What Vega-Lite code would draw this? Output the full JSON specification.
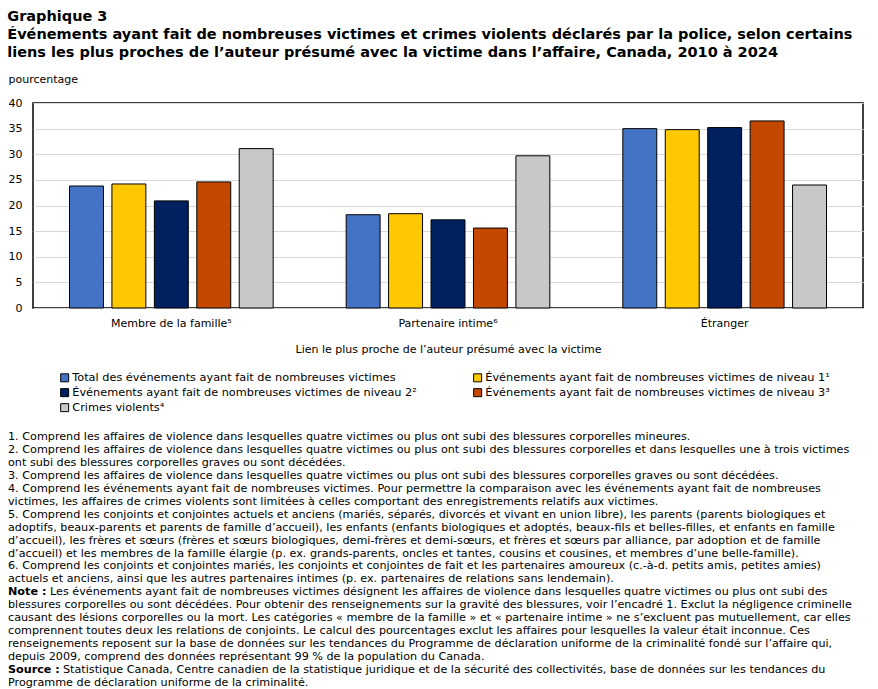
{
  "$schema": "https://vega.github.io/schema/vega-lite/v6.json",
  "padding": {"left": 7, "top": 8, "right": 5, "bottom": 2},
  "background": "white",
  "config": {
    "font": "DejaVu Sans",
    "view": {"stroke": "black", "strokeWidth": 1.5},
    "concat": {"spacing": 16}
  },
  "resolve": {"legend": {"color": "independent"}, "scale": {"color": "independent"}},
  "title": {
    "text": ["Graphique 3", "Événements ayant fait de nombreuses victimes et crimes violents déclarés par la police, selon certains", "liens les plus proches de l’auteur présumé avec la victime dans l’affaire, Canada, 2010 à 2024"],
    "font": "DejaVu Sans",
    "fontSize": 14.5,
    "fontWeight": "bold",
    "color": "black",
    "anchor": "start",
    "lineHeight": 18,
    "offset": 12
  },
  "datasets": {
    "bars": [
      {"relation": "Membre de la famille⁵", "serie": "Total des événements ayant fait de nombreuses victimes", "value": 23.8},
      {"relation": "Membre de la famille⁵", "serie": "Événements ayant fait de nombreuses victimes de niveau 1¹", "value": 24.2},
      {"relation": "Membre de la famille⁵", "serie": "Événements ayant fait de nombreuses victimes de niveau 2²", "value": 20.9},
      {"relation": "Membre de la famille⁵", "serie": "Événements ayant fait de nombreuses victimes de niveau 3³", "value": 24.6},
      {"relation": "Membre de la famille⁵", "serie": "Crimes violents⁴", "value": 31.1},
      {"relation": "Partenaire intime⁶", "serie": "Total des événements ayant fait de nombreuses victimes", "value": 18.2},
      {"relation": "Partenaire intime⁶", "serie": "Événements ayant fait de nombreuses victimes de niveau 1¹", "value": 18.4},
      {"relation": "Partenaire intime⁶", "serie": "Événements ayant fait de nombreuses victimes de niveau 2²", "value": 17.2},
      {"relation": "Partenaire intime⁶", "serie": "Événements ayant fait de nombreuses victimes de niveau 3³", "value": 15.6},
      {"relation": "Partenaire intime⁶", "serie": "Crimes violents⁴", "value": 29.7},
      {"relation": "Étranger", "serie": "Total des événements ayant fait de nombreuses victimes", "value": 35.0},
      {"relation": "Étranger", "serie": "Événements ayant fait de nombreuses victimes de niveau 1¹", "value": 34.8},
      {"relation": "Étranger", "serie": "Événements ayant fait de nombreuses victimes de niveau 2²", "value": 35.2},
      {"relation": "Étranger", "serie": "Événements ayant fait de nombreuses victimes de niveau 3³", "value": 36.5},
      {"relation": "Étranger", "serie": "Crimes violents⁴", "value": 24.0}
    ],
    "notes": [
      {"line": 1, "kind": "plain", "prefix": "", "text": "1. Comprend les affaires de violence dans lesquelles quatre victimes ou plus ont subi des blessures corporelles mineures."},
      {"line": 2, "kind": "plain", "prefix": "", "text": "2. Comprend les affaires de violence dans lesquelles quatre victimes ou plus ont subi des blessures corporelles et dans lesquelles une à trois victimes"},
      {"line": 3, "kind": "plain", "prefix": "", "text": "ont subi des blessures corporelles graves ou sont décédées."},
      {"line": 4, "kind": "plain", "prefix": "", "text": "3. Comprend les affaires de violence dans lesquelles quatre victimes ou plus ont subi des blessures corporelles graves ou sont décédées."},
      {"line": 5, "kind": "plain", "prefix": "", "text": "4. Comprend les événements ayant fait de nombreuses victimes. Pour permettre la comparaison avec les événements ayant fait de nombreuses"},
      {"line": 6, "kind": "plain", "prefix": "", "text": "victimes, les affaires de crimes violents sont limitées à celles comportant des enregistrements relatifs aux victimes."},
      {"line": 7, "kind": "plain", "prefix": "", "text": "5. Comprend les conjoints et conjointes actuels et anciens (mariés, séparés, divorcés et vivant en union libre), les parents (parents biologiques et"},
      {"line": 8, "kind": "plain", "prefix": "", "text": "adoptifs, beaux-parents et parents de famille d’accueil), les enfants (enfants biologiques et adoptés, beaux-fils et belles-filles, et enfants en famille"},
      {"line": 9, "kind": "plain", "prefix": "", "text": "d’accueil), les frères et sœurs (frères et sœurs biologiques, demi-frères et demi-sœurs, et frères et sœurs par alliance, par adoption et de famille"},
      {"line": 10, "kind": "plain", "prefix": "", "text": "d’accueil) et les membres de la famille élargie (p.  ex. grands-parents, oncles et tantes, cousins et cousines, et membres d’une belle-famille)."},
      {"line": 11, "kind": "plain", "prefix": "", "text": "6. Comprend les conjoints et conjointes mariés, les conjoints et conjointes de fait et les partenaires amoureux (c.-à-d. petits amis, petites amies)"},
      {"line": 12, "kind": "plain", "prefix": "", "text": "actuels et anciens, ainsi que les autres partenaires intimes (p.  ex. partenaires de relations sans lendemain)."},
      {"line": 13, "kind": "note", "prefix": "Note :", "text": "Les événements ayant fait de nombreuses victimes désignent les affaires de violence dans lesquelles quatre victimes ou plus ont subi des"},
      {"line": 14, "kind": "plain", "prefix": "", "text": "blessures corporelles ou sont décédées. Pour obtenir des renseignements sur la gravité des blessures, voir l’encadré 1. Exclut la négligence criminelle"},
      {"line": 15, "kind": "plain", "prefix": "", "text": "causant des lésions corporelles ou la mort. Les catégories « membre de la famille » et « partenaire intime » ne s’excluent pas mutuellement, car elles"},
      {"line": 16, "kind": "plain", "prefix": "", "text": "comprennent toutes deux les relations de conjoints. Le calcul des pourcentages exclut les affaires pour lesquelles la valeur était inconnue. Ces"},
      {"line": 17, "kind": "plain", "prefix": "", "text": "renseignements reposent sur la base de données sur les tendances du Programme de déclaration uniforme de la criminalité fondé sur l’affaire qui,"},
      {"line": 18, "kind": "plain", "prefix": "", "text": "depuis 2009, comprend des données représentant 99 % de la population du Canada."},
      {"line": 19, "kind": "source", "prefix": "Source :", "text": "Statistique  Canada, Centre canadien de la statistique juridique et de la sécurité des collectivités, base de données sur les tendances du"},
      {"line": 20, "kind": "plain", "prefix": "", "text": "Programme de déclaration uniforme de la criminalité."}
    ]
  },
  "vconcat": [
    {
      "data": {"name": "bars"},
      "width": 830,
      "height": 205,
      "mark": {"type": "bar", "stroke": "black", "strokeWidth": 1},
      "encoding": {
        "x": {
          "field": "relation",
          "type": "nominal",
          "sort": ["Membre de la famille⁵", "Partenaire intime⁶", "Étranger"],
          "scale": {"paddingInner": 0, "paddingOuter": 0},
          "axis": {
            "title": "Lien le plus proche de l’auteur présumé avec la victime",
            "titleFontSize": 11,
            "titleFontWeight": "normal",
            "titleColor": "black",
            "titlePadding": 15,
            "labelFontSize": 11,
            "labelColor": "black",
            "labelPadding": 9,
            "labelAngle": 0,
            "ticks": false,
            "domain": false
          }
        },
        "xOffset": {
          "field": "serie",
          "type": "nominal",
          "sort": ["Total des événements ayant fait de nombreuses victimes", "Événements ayant fait de nombreuses victimes de niveau 1¹", "Événements ayant fait de nombreuses victimes de niveau 2²", "Événements ayant fait de nombreuses victimes de niveau 3³", "Crimes violents⁴"],
          "scale": {"paddingInner": 0.2, "paddingOuter": 0.86}
        },
        "y": {
          "field": "value",
          "type": "quantitative",
          "scale": {"domain": [0, 40]},
          "axis": {
            "title": "pourcentage",
            "titleAngle": 0,
            "titleAlign": "left",
            "titleBaseline": "alphabetic",
            "titleX": -25,
            "titleY": -21,
            "titleFontSize": 11,
            "titleFontWeight": "normal",
            "titleColor": "black",
            "values": [0, 5, 10, 15, 20, 25, 30, 35, 40],
            "labelFontSize": 11,
            "labelColor": "black",
            "labelPadding": 11,
            "ticks": false,
            "domain": false,
            "gridColor": "#D9D9D9",
            "gridWidth": 1
          }
        },
        "color": {
          "field": "serie",
          "type": "nominal",
          "sort": ["Total des événements ayant fait de nombreuses victimes", "Événements ayant fait de nombreuses victimes de niveau 1¹", "Événements ayant fait de nombreuses victimes de niveau 2²", "Événements ayant fait de nombreuses victimes de niveau 3³", "Crimes violents⁴"],
          "scale": {
            "domain": ["Total des événements ayant fait de nombreuses victimes", "Événements ayant fait de nombreuses victimes de niveau 1¹", "Événements ayant fait de nombreuses victimes de niveau 2²", "Événements ayant fait de nombreuses victimes de niveau 3³", "Crimes violents⁴"],
            "range": ["#4472C4", "#FFC800", "#002060", "#C44800", "#C8C8C8"]
          },
          "legend": {
            "title": null,
            "orient": "none",
            "legendX": 26,
            "legendY": 269,
            "direction": "horizontal",
            "columns": 2,
            "columnPadding": 54,
            "rowPadding": 2,
            "symbolType": "square",
            "symbolSize": 64,
            "symbolStrokeColor": "black",
            "symbolStrokeWidth": 1,
            "symbolOpacity": 1,
            "labelFontSize": 11.3,
            "labelColor": "black",
            "labelOffset": 2,
            "labelLimit": 500
          }
        }
      }
    },
    {
      "data": {"name": "notes"},
      "width": 830,
      "height": 258,
      "view": {"stroke": null},
      "encoding": {
        "y": {"field": "line", "type": "ordinal", "axis": null, "scale": {"paddingInner": 0, "paddingOuter": 0}},
        "x": {"datum": 0, "type": "quantitative", "scale": {"domain": [0, 1]}, "axis": null}
      },
      "layer": [
        {
          "transform": [{"filter": "datum.kind === 'plain'"}],
          "mark": {"type": "text", "align": "left", "baseline": "middle", "fontSize": 11.2, "color": "black", "dx": -25},
          "encoding": {"text": {"field": "text"}}
        },
        {
          "transform": [{"filter": "datum.kind === 'note'"}],
          "mark": {"type": "text", "align": "left", "baseline": "middle", "fontSize": 11.2, "color": "black", "dx": 17},
          "encoding": {"text": {"field": "text"}}
        },
        {
          "transform": [{"filter": "datum.kind === 'source'"}],
          "mark": {"type": "text", "align": "left", "baseline": "middle", "fontSize": 11.2, "color": "black", "dx": 30},
          "encoding": {"text": {"field": "text"}}
        },
        {
          "transform": [{"filter": "datum.prefix !== ''"}],
          "mark": {"type": "text", "align": "left", "baseline": "middle", "fontSize": 11.2, "fontWeight": "bold", "color": "black", "dx": -25},
          "encoding": {"text": {"field": "prefix"}}
        }
      ]
    }
  ]
}
